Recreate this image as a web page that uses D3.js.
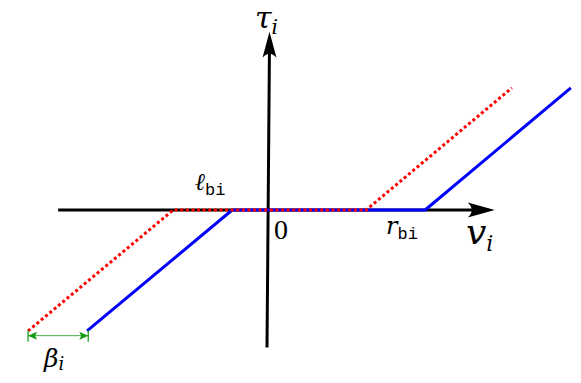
<!DOCTYPE html>
<html>
<head>
<meta charset="utf-8">
<script src="https://cdn.jsdelivr.net/npm/d3@7"></script>
<style>
  html, body { margin: 0; padding: 0; background: #fff; }
  svg { display: block; }
</style>
</head>
<body>
<div id="chart"></div>
<script>
// ---- data (in chart units) ----
const bluePathV = [-3.05, -0.59, 2.68, 5.15];
const bluePathT = [-2.05, 0, 0, 2.07];
const redPathV  = [-4.05, -1.59, 1.68, 4.15];
const redPathT  = [-2.05, 0, 0, 2.07];
const axisV = [-3.54, 3.86];      // horizontal axis extent (v)
const axisT = [-2.33, 3.02];      // vertical axis extent (tau)
const betaSpan = [-4.05, -3.03];  // beta_i width marker
const betaLevel = -2.13;

const W = 581, H = 383;
const unit = 59, ox = 267, oy = 210;
const xs = d3.scaleLinear().domain([-4.5, 5.5]).range([ox - 4.5 * unit, ox + 5.5 * unit]);
const ys = d3.scaleLinear().domain([-3, 3.5]).range([oy + 3 * unit, oy - 3.5 * unit]);

const svg = d3.select("#chart").append("svg").attr("width", W).attr("height", H);

// ---- axes ----
const axG = svg.append("g");
axG.append("line")
  .attr("x1", xs(axisV[0])).attr("y1", ys(0))
  .attr("x2", xs(axisV[1]) - 12).attr("y2", ys(0))
  .attr("stroke", "#000").attr("stroke-width", 3);
axG.append("line")
  .attr("x1", xs(0)).attr("y1", ys(axisT[0]))
  .attr("x2", xs(0) + 2.5).attr("y2", ys(axisT[1]) + 12)
  .attr("stroke", "#000").attr("stroke-width", 3);

function arrowH(tx, ty) {
  return `M${tx},${ty} L${tx - 27},${ty - 7.5} Q${tx - 19},${ty} ${tx - 27},${ty + 7.5} Z`;
}
function arrowV(tx, ty) {
  return `M${tx},${ty} L${tx - 7},${ty + 26} Q${tx},${ty + 18} ${tx + 7},${ty + 26} Z`;
}
axG.append("path").attr("d", arrowH(xs(axisV[1]), ys(0))).attr("fill", "#000");
axG.append("path").attr("d", arrowV(xs(0) + 2.5, ys(axisT[1]))).attr("fill", "#000");

// ---- curves ----
const line = d3.line().x(d => xs(d[0])).y(d => ys(d[1]));
const bluePts = bluePathV.map((v, i) => [v, bluePathT[i]]);
const redPts = redPathV.map((v, i) => [v, redPathT[i]]);

svg.append("path").attr("d", line(bluePts))
  .attr("fill", "none").attr("stroke", "#0000ff").attr("stroke-width", 3)
  .attr("stroke-linejoin", "round");
svg.append("path").attr("d", line(redPts))
  .attr("fill", "none").attr("stroke", "#ff0000").attr("stroke-width", 3)
  .attr("stroke-dasharray", "3,2.6");

// ---- beta marker ----
const bG = svg.append("g");
const by = ys(betaLevel);
bG.append("line").attr("x1", xs(betaSpan[0])).attr("x2", xs(betaSpan[1]))
  .attr("y1", by).attr("y2", by).attr("stroke", "#44b044").attr("stroke-width", 1);
betaSpan.forEach(v => {
  bG.append("line").attr("x1", xs(v)).attr("x2", xs(v))
    .attr("y1", by - 6).attr("y2", by + 6).attr("stroke", "#119911").attr("stroke-width", 1.2);
});
const ah = 9;
bG.append("path")
  .attr("d", `M${xs(betaSpan[0])},${by} L${xs(betaSpan[0]) + ah},${by - 4} L${xs(betaSpan[0]) + ah - 2},${by} L${xs(betaSpan[0]) + ah},${by + 4} Z`)
  .attr("fill", "#119911");
bG.append("path")
  .attr("d", `M${xs(betaSpan[1])},${by} L${xs(betaSpan[1]) - ah},${by - 4} L${xs(betaSpan[1]) - ah + 2},${by} L${xs(betaSpan[1]) - ah},${by + 4} Z`)
  .attr("fill", "#119911");

// ---- labels ----
const serif = "DejaVu Serif, Liberation Serif, serif";
const roman = "Liberation Serif, DejaVu Serif, serif";
const mono = "Liberation Mono, DejaVu Sans Mono, monospace";
function mathLabel(x, y, main, sub, size, subSize, subDy, subFont) {
  const t = svg.append("text").attr("x", x).attr("y", y)
    .attr("font-family", serif).attr("font-size", size).attr("fill", "#000");
  t.append("tspan").attr("font-style", "italic").text(main);
  t.append("tspan").attr("dy", subDy).attr("font-size", subSize)
    .attr("font-family", subFont || serif)
    .attr("font-style", subFont ? "normal" : "italic").text(sub);
  return t;
}
mathLabel(255, 28, "τ", "i", 30, 20, 6);
mathLabel(466, 244, "v", "i", 36, 22, 7);
mathLabel(195, 190, "ℓ", "bi", 24, 17, 5, mono);
mathLabel(386, 234, "r", "bi", 24, 17, 5, mono);
mathLabel(44, 367, "β", "i", 25, 18, 3);
svg.append("text").attr("x", 274).attr("y", 239)
  .attr("font-family", roman).attr("font-size", 28).attr("fill", "#000").text("0");
</script>
</body>
</html>
